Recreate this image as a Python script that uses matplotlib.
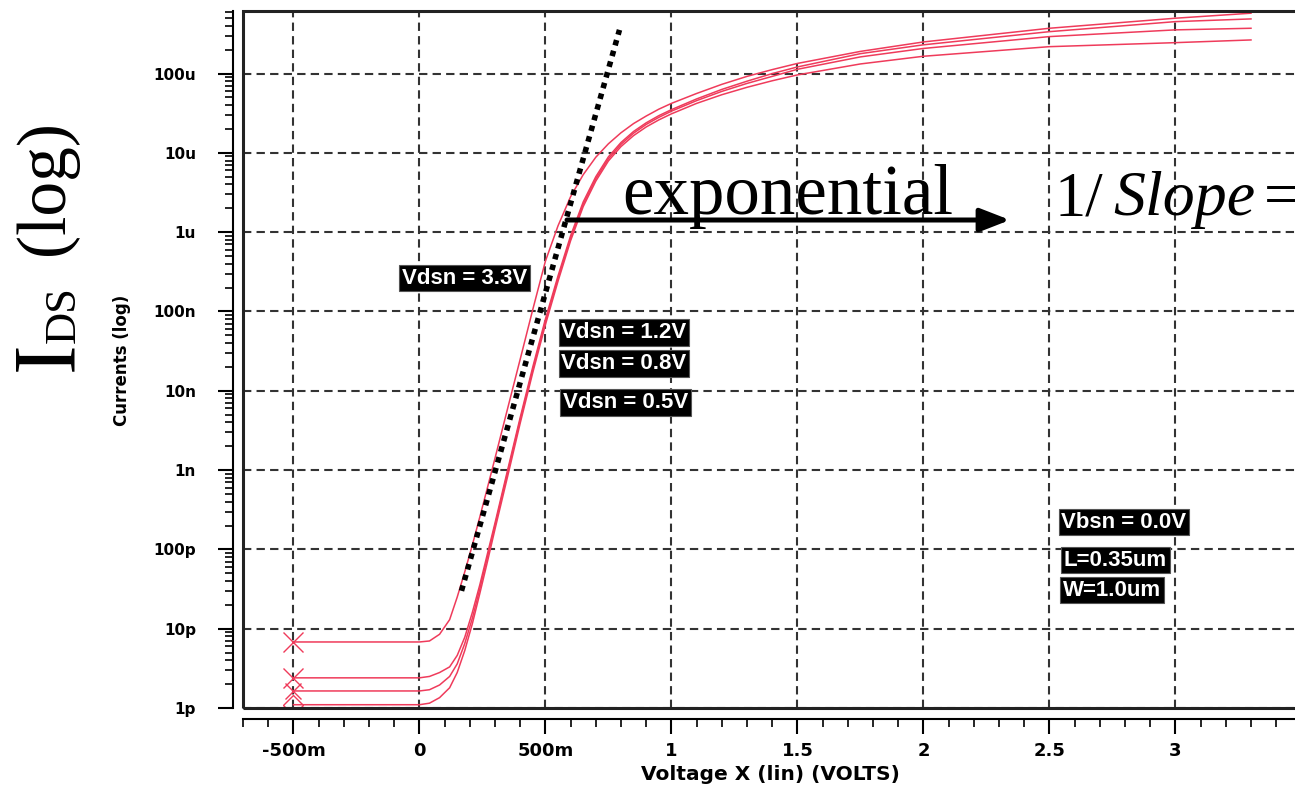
import matplotlib
matplotlib.use('Agg')
import matplotlib.pyplot as plt
from matplotlib.ticker import FixedLocator, MultipleLocator, LogLocator, NullFormatter
from matplotlib.patches import Rectangle

# gate sweep (V) shared by all four traces
vgs = [-0.5, 0.0, 0.04, 0.08, 0.12, 0.15, 0.18, 0.21, 0.24, 0.27, 0.30, 0.35,
       0.40, 0.45, 0.50, 0.55, 0.60, 0.65, 0.70, 0.75, 0.80, 0.85, 0.90, 0.95,
       1.0, 1.1, 1.2, 1.3, 1.4, 1.5, 1.75, 2.0, 2.5, 3.0, 3.3]

# drain current (A) for each Vds
ids_3v3 = [6.8e-12, 6.8e-12, 7.0e-12, 8.5e-12, 13e-12, 25e-12, 52e-12, 113e-12,
           258e-12, 600e-12, 1.41e-9, 5.96e-9, 25e-9, 106e-9, 430e-9, 1.2e-6,
           2.8e-6, 5.3e-6, 8.8e-6, 13.0e-6, 17.9e-6, 23.4e-6, 29.1e-6, 35.5e-6,
           42e-6, 56e-6, 73e-6, 92e-6, 112e-6, 134e-6, 190e-6, 250e-6, 372e-6,
           498e-6, 576e-6]
ids_1v2 = [2.4e-12, 2.4e-12, 2.5e-12, 2.8e-12, 3.3e-12, 4.6e-12, 7.8e-12, 16e-12,
           36e-12, 88e-12, 215e-12, 1.0e-9, 4.6e-9, 20e-9, 80e-9, 280e-9,
           900e-9, 2.4e-6, 5.0e-6, 8.9e-6, 13.5e-6, 18.6e-6, 23.9e-6, 29.4e-6,
           35e-6, 47.8e-6, 63e-6, 80e-6, 99.8e-6, 121e-6, 178e-6, 230e-6, 337e-6,
           451e-6, 488e-6]
ids_0v8 = [1.64e-12, 1.64e-12, 1.7e-12, 1.95e-12, 2.5e-12, 3.6e-12, 6.5e-12, 13.5e-12,
           32e-12, 80e-12, 200e-12, 0.93e-9, 4.3e-9, 18.5e-9, 74e-9, 260e-9,
           840e-9, 2.25e-6, 4.7e-6, 8.4e-6, 12.8e-6, 17.7e-6, 22.8e-6, 28e-6,
           33.5e-6, 45.5e-6, 59.5e-6, 75e-6, 92e-6, 113e-6, 162e-6, 207e-6, 292e-6,
           355e-6, 372e-6]
ids_0v5 = [1.1e-12, 1.1e-12, 1.15e-12, 1.35e-12, 1.8e-12, 2.8e-12, 5.3e-12, 11.5e-12,
           28e-12, 70e-12, 180e-12, 0.83e-9, 3.9e-9, 17e-9, 68e-9, 240e-9,
           780e-9, 2.1e-6, 4.4e-6, 7.9e-6, 12.0e-6, 16.5e-6, 21.2e-6, 26e-6,
           31e-6, 42e-6, 54e-6, 67e-6, 81e-6, 96e-6, 132e-6, 165e-6, 218e-6,
           245e-6, 265e-6]

# subthreshold tangent (two end points)
tangent_v = [0.167, 0.794]
tangent_i = [30e-12, 355e-6]

xticks = [-0.5, 0.0, 0.5, 1.0, 1.5, 2.0, 2.5, 3.0]
xticklabels = ['-500m', '0', '500m', '1', '1.5', '2', '2.5', '3']
yticks = [1e-12, 1e-11, 1e-10, 1e-9, 1e-8, 1e-7, 1e-6, 1e-5, 1e-4]
yticklabels = ['1p', '10p', '100p', '1n', '10n', '100n', '1u', '10u', '100u']

W, H = 1295, 788
RED = '#ef3b5b'

plt.rcParams['font.family'] = 'DejaVu Sans'
plt.rcParams['font.weight'] = 'bold'

fig = plt.figure(figsize=(W / 100, H / 100), dpi=100)


def fx(px):
    return px / W


def fy(py):
    return 1 - py / H


# axes box runs off the right edge of the figure
ax = fig.add_axes([fx(243), fy(708), (1326.6 - 243) / W, (708 - 11) / H])
ax.set_xlim(-0.7, 3.6)
ax.set_yscale('log')
ax.set_ylim(1e-12, 6.14e-4)

traces = [(ids_3v3, 'x', 15), (ids_1v2, 'x', 15), (ids_0v8, 'x', 11), (ids_0v5, 'D', 10)]
for ids, mk, ms in traces:
    ax.plot(vgs, ids, color=RED, lw=1.1, marker=mk, markevery=[0], ms=ms,
            mec=RED, mfc='none', mew=1.0, zorder=3)

ax.plot(tangent_v, tangent_i, color='black', lw=4, linestyle=(0, (1, 1)),
        dash_capstyle='butt', zorder=4)

# rulers sit just outside the frame
ax.spines['left'].set_position(('outward', 7))
ax.spines['bottom'].set_position(('outward', 8))
for s in ['left', 'bottom']:
    ax.spines[s].set_linewidth(1.5)
ax.spines['top'].set_visible(False)
ax.spines['right'].set_visible(False)
ax.add_patch(Rectangle((0, 0), 1, 1, transform=ax.transAxes, fill=False,
                       lw=2.2, edgecolor='#222222', clip_on=False, zorder=5))

ax.xaxis.set_major_locator(FixedLocator(xticks))
ax.set_xticklabels(xticklabels)
ax.xaxis.set_minor_locator(MultipleLocator(0.1))
ax.yaxis.set_major_locator(FixedLocator(yticks))
ax.set_yticklabels(yticklabels)
ax.yaxis.set_minor_locator(LogLocator(base=10, subs=range(2, 10), numticks=20))
ax.yaxis.set_minor_formatter(NullFormatter())

ax.tick_params(axis='x', which='major', direction='out', length=10.8, width=1.5,
               labelsize=13, pad=6)
ax.tick_params(axis='x', which='minor', direction='out', length=5.8, width=1.2)
ax.tick_params(axis='y', which='major', direction='out', length=10.8, width=1.5,
               labelsize=11, pad=16)
ax.tick_params(axis='y', which='minor', direction='out', length=5.8, width=1.2)

ax.grid(True, which='major', color='#333333', lw=1.5, linestyle=(0, (4, 2.5)))

fig.text(fx(770), fy(774), 'Voltage X (lin) (VOLTS)', ha='center', va='center',
         fontsize=14.5, fontweight='bold')
fig.text(fx(122), fy(360), 'Currents (log)', ha='center', va='center',
         rotation=90, fontsize=12, fontweight='bold')

# big serif axis caption
serif = 'Liberation Serif'
fig.text(fx(71), fy(371), 'I', rotation=90, rotation_mode='anchor', ha='left',
         va='baseline', family=serif, fontweight='normal', fontsize=64)
fig.text(fx(75), fy(343), 'DS', rotation=90, rotation_mode='anchor', ha='left',
         va='baseline', family=serif, fontweight='normal', fontsize=32)
fig.text(fx(63), fy(255), '(log)', rotation=90, rotation_mode='anchor', ha='left',
         va='baseline', family=serif, fontweight='normal', fontsize=50)

# labels on black boxes
box_font = 'Liberation Sans'
labels = [('Vdsn = 3.3V', 464.5, 278), ('Vdsn = 1.2V', 624, 332.5),
          ('Vdsn = 0.8V', 624, 363.5), ('Vdsn = 0.5V', 625.5, 402.5),
          ('Vbsn = 0.0V', 1124, 522), ('L=0.35um', 1115.5, 560),
          ('W=1.0um', 1112, 590)]
for txt, px, py in labels:
    fig.text(fx(px), fy(py), txt, ha='center', va='center', color='white',
             family=box_font, fontweight='bold', fontsize=16, zorder=6,
             bbox=dict(boxstyle='square,pad=0.12', facecolor='black',
                       edgecolor='#555555', lw=0.8))

# exponential region annotation
fig.text(fx(622), fy(214), 'exponential', ha='left', va='baseline',
         family=serif, fontweight='normal', fontsize=51)
ax.annotate('', xy=(fx(1010), fy(220)), xytext=(fx(567), fy(220)),
            xycoords='figure fraction', textcoords='figure fraction',
            arrowprops=dict(arrowstyle='-|>,head_length=0.9,head_width=0.35',
                            mutation_scale=20, lw=3.6, color='black',
                            shrinkA=0, shrinkB=0))
fig.text(fx(1054), fy(215), '1/', ha='left', va='baseline', family=serif,
         fontweight='normal', fontsize=45)
fig.text(fx(1113), fy(215), 'Slope', ha='left', va='baseline', family=serif,
         style='italic', fontweight='normal', fontsize=46)
fig.text(fx(1264), fy(215), '=', ha='left', va='baseline', family=serif,
         fontweight='normal', fontsize=46)

fig.savefig('out.png', dpi=100)
